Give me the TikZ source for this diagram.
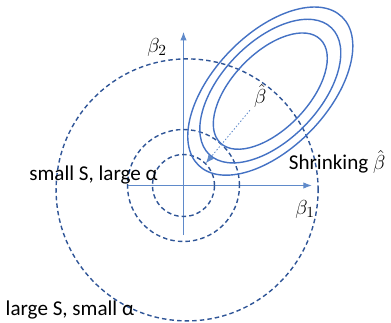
\documentclass[tikz,border=0pt]{standalone}
\usepackage{fontspec}
\setmainfont{Carlito}
\usetikzlibrary{arrows.meta}
\definecolor{axisblue}{RGB}{95,138,202}
\definecolor{ellblue}{RGB}{68,114,196}
\definecolor{circblue}{RGB}{47,85,151}

\begin{document}
\begin{tikzpicture}[
  every node/.style={font=\fontsize{15}{18}\selectfont, inner sep=0pt},
  contour/.style={draw=ellblue, line width=1pt},
  penalty/.style={draw=circblue, line width=1pt, dash pattern=on 3.2pt off 2.2pt},
  axis/.style={draw=axisblue, line width=0.7pt, -{Latex[length=6pt,width=4.5pt]}}
]
\useasboundingbox (-4.5875,-3.4375) rectangle (5.1875,4.6375);

% origin and least squares point
\coordinate (O) at (0,0);
\coordinate (bhat) at (2.17,2.36);
\coordinate (bfrom) at (1.66,1.88);
\coordinate (bto) at (0.56,0.56);

% axes
\coordinate (xl) at (-1.41,0);
\coordinate (xr) at (3.21,0);
\coordinate (yb) at (0,-1.24);
\coordinate (yt) at (0,3.84);
\draw[axis] (xl) -- (xr);
\draw[axis] (yb) -- (yt);
\node (b1) at (3.04,-0.6) {$\beta_1$};
\node (b2) at (-0.66,3.46) {$\beta_2$};

% constraint regions
\draw[penalty] (O) circle (0.775);
\draw[penalty] (O) circle (1.4);
\draw[penalty] (0.09,-0.11) circle (3.275);

% RSS contours
\draw[contour, rotate around={46:(bhat)}] (bhat) ellipse [x radius=2.58, y radius=1.42];
\draw[contour, rotate around={46:(bhat)}] (bhat) ellipse [x radius=2.2, y radius=1.22];
\draw[contour, rotate around={46:(bhat)}] (bhat) ellipse [x radius=1.8, y radius=0.95];

% shrinkage
\draw[axisblue, line width=0.6pt, dash pattern=on 1pt off 1.4pt,
      -{Latex[length=6pt,width=5pt]}] (bfrom) -- (bto);
\node (bhatlbl) at (1.92,2.24) {$\hat{\beta}$};
\node (shrink) at (3.84,0.59) {Shrinking $\hat{\beta}$};

% labels
\node (smallS) at (-2.25,0.26) {small S, large α};
\node (largeS) at (-2.84,-3.11) {large S, small α};
\end{tikzpicture}
\end{document}
